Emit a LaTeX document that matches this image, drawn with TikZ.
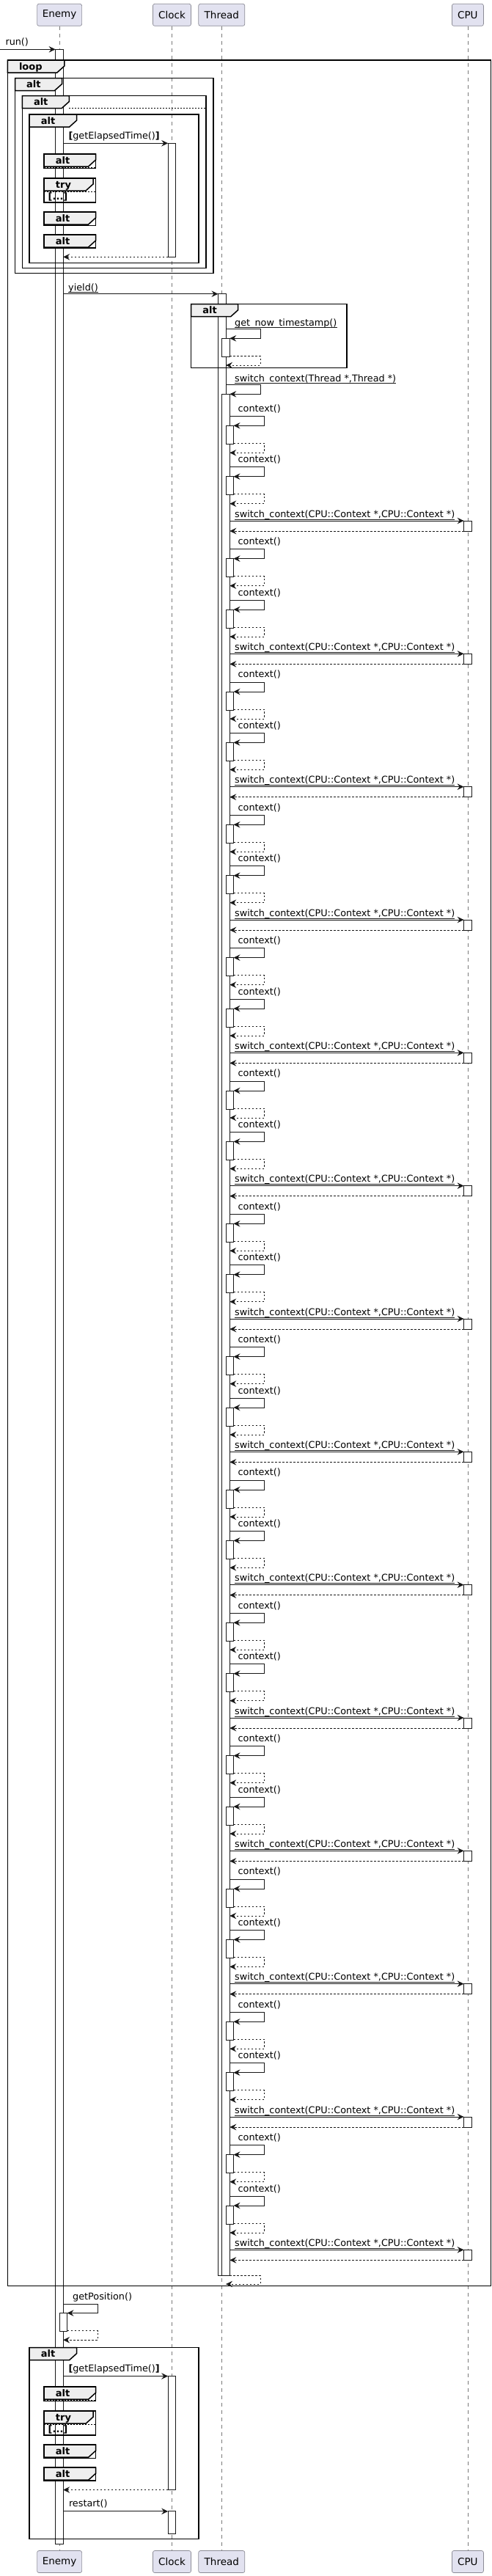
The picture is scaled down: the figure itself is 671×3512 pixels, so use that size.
\documentclass[tikz,border=0pt]{standalone}
\usepackage{fontspec}
\setmainfont{DejaVu Sans}
\usetikzlibrary{arrows.meta}
\definecolor{partfill}{HTML}{E2E2F0}
\definecolor{partline}{HTML}{8C8C96}
\definecolor{tabfill}{HTML}{EEEEEE}
\definecolor{ink}{HTML}{181818}
\definecolor{lifegray}{HTML}{7A7A7A}
\tikzset{
  msg/.style={draw=ink, line width=0.9pt, -{Stealth[length=9pt,width=8.5pt,inset=3.2pt]}},
  ret/.style={msg, dash pattern=on 2.5pt off 2.5pt},
  lifeline/.style={draw=lifegray, line width=0.6pt, dash pattern=on 5pt off 5pt},
  part/.style={draw=partline, fill=partfill, rounded corners=2.5pt, line width=0.7pt,
    minimum height=30pt, inner sep=0pt, font=\fontsize{13.5}{16}\selectfont},
  act/.style={draw=ink, fill=white, line width=0.8pt},
  seqframe/.style={draw=black, line width=1.5pt},
  tabpoly/.style={draw=black, fill=tabfill, line width=1.5pt},
  sepline/.style={draw=black, line width=0.6pt, dash pattern=on 2pt off 2pt},
  msgtxt/.style={inner sep=0pt, anchor=base west, font=\fontsize{12.8}{15}\selectfont},
  tabtxt/.style={inner sep=0pt, anchor=base west, font=\fontsize{13}{15}\selectfont\bfseries},
  uline/.style={draw=ink, line width=0.8pt}
}
% frame with tab: name, x0, y0, x1, y1, tab width, label
\newcommand{\SeqFrame}[7]{%
  \draw[seqframe] (#2,#3) rectangle (#4,#5);
  \draw[tabpoly] (#2,#3) -- (#2+#6,#3) -- (#2+#6,#3+8) -- (#2+#6-10,#3+17) -- (#2,#3+17) -- cycle;
  \node[tabtxt] (#1) at (#2+15.5,#3+13) {#7};
}
% collapsed small fragment: name, y0, y1, tab width, label
\newcommand{\SeqMini}[5]{%
  \draw[seqframe] (60,#2) rectangle (130.5,#3);
  \draw[tabpoly] (60,#2) -- (60+#4,#2) -- (60+#4,#2+8) -- (60+#4-10,#2+17) -- (60,#2+17) -- cycle;
  \node[tabtxt] (#1) at (75.7,#2+13) {#5};
}
% the block of collapsed fragments under getElapsedTime(): arrow y, suffix
\newcommand{\ClockBlock}[2]{%
  \SeqMini{mA#2}{#1+14.7}{#1+34.2}{70.5}{alt}
  \draw[sepline] (60,#1+32.7) -- (130.5,#1+32.7);
  \SeqMini{mB#2}{#1+47.7}{#1+80.7}{67}{try}
  \draw[sepline] (60,#1+66) -- (130.5,#1+66);
  \node[tabtxt] (mBt#2) at (65.5,#1+77.2) {[...]};
  \SeqMini{mC#2}{#1+93.7}{#1+112.2}{70.5}{alt}
  \SeqMini{mD#2}{#1+124.7}{#1+142.7}{70.5}{alt}
}
\newcommand{\ULine}[1]{\draw[uline] ([yshift=-2.7pt]#1.base west) -- ([yshift=-2.7pt]#1.base east);}

\begin{document}
\begin{tikzpicture}[x=1pt,y=-1pt]
\useasboundingbox (0,0) rectangle (671,3512);

% participants
\node[part, minimum width=61pt] (enemyT) at (81.1,20.3) {Enemy};
\node[part, minimum width=52pt] (clockT) at (234.5,20.3) {Clock};
\node[part, minimum width=63pt] (threadT) at (302.3,20.3) {Thread};
\node[part, minimum width=43pt] (cpuT) at (637.9,20.3) {CPU};
\node[part, minimum width=61pt] (enemyB) at (81.1,3492.5) {Enemy};
\node[part, minimum width=52pt] (clockB) at (234.5,3492.5) {Clock};
\node[part, minimum width=63pt] (threadB) at (302.3,3492.5) {Thread};
\node[part, minimum width=43pt] (cpuB) at (637.9,3492.5) {CPU};

% lifelines
\draw[lifeline] (enemyT.south) -- (enemyB.north);
\draw[lifeline] (clockT.south) -- (clockB.north);
\draw[lifeline] (threadT.south) -- (threadB.north);
\draw[lifeline] (cpuT.south) -- (cpuB.north);

% main activations
\draw[act] (75.6,67.3) rectangle (86.1,3468.4);
\draw[act] (81,3153.5) rectangle (91.5,3178.5);
\draw[act] (229.2,195.3) rectangle (239.7,350.3);
\draw[act] (229.2,3239.5) rectangle (239.7,3394.5);
\draw[act] (229.2,3423.8) rectangle (239.7,3454);
\draw[act] (297.5,400.7) rectangle (308,3102.3);
\draw[act] (302.75,461.3) rectangle (313.25,486.3);
\draw[act] (302.75,537.3) rectangle (313.25,3102.3);

% fragments
\SeqFrame{loopF}{10.3}{82}{669.7}{3116.5}{77.5}{loop}
\SeqFrame{altA}{20.5}{106.5}{291}{372.7}{64}{alt}
\SeqFrame{altB}{30.3}{130.5}{281}{365.3}{64}{alt}
\draw[sepline] (94.3,147.7) -- (281,147.7);
\SeqFrame{altC}{40.2}{156}{271}{358.7}{64.5}{alt}
\ClockBlock{195.3}{one}
\SeqFrame{altT}{260.6}{414.7}{473}{501.3}{64}{alt}
\SeqFrame{altD}{40.2}{3200.5}{271}{3461.7}{64.5}{alt}
\ClockBlock{3239.5}{two}

% run()
\node[msgtxt] (runL) at (7.3,61.3) {run()};
\draw[msg] (0,67.3) -- (75.6,67.3);

% getElapsedTime (top)
\node[msgtxt] (getA) at (93.3,189.3) {\textbf{[}getElapsedTime()\textbf{]}};
\draw[msg] (86.1,195.3) -- (229.2,195.3);
\draw[ret] (229.2,350.3) -- (86.1,350.3);

% yield()
\node[msgtxt] (yieldL) at (93,396) {yield()};
\ULine{yieldL}
\draw[msg] (86.1,400.7) -- (297.5,400.7);

% get_now_timestamp()
\node[msgtxt] (nowL) at (320,444) {get\_now\_timestamp()};
\ULine{nowL}
\draw[msg] (308,448.7) -- (355,448.7) -- (355,461.3) -- (313.25,461.3);
\draw[ret] (313.25,485.3) -- (355,485.3) -- (355,498) -- (308,498);

% switch_context(Thread *,Thread *)
\node[msgtxt] (swT) at (320,520) {switch\_context(Thread *,Thread *)};
\ULine{swT}
\draw[msg] (308,524.7) -- (355,524.7) -- (355,537.3) -- (313.25,537.3);

% repeated context groups
\foreach \k in {0,...,13}{
  \pgfmathsetmacro{\ya}{567.3+181.33*\k}
  \pgfmathsetmacro{\yb}{\ya+69.4}
  \pgfmathsetmacro{\yc}{\ya+142.7}
  \draw[act] (308,\ya+13) rectangle (318.5,\ya+38);
  \node[msgtxt] (ctxA\k) at (324.5,\ya-6) {context()};
  \draw[msg] (313.25,\ya) -- (360.4,\ya) -- (360.4,\ya+13) -- (318.5,\ya+13);
  \draw[ret] (318.5,\ya+37) -- (360.4,\ya+37) -- (360.4,\ya+50) -- (313.25,\ya+50);
  \draw[act] (308,\yb+13) rectangle (318.5,\yb+38);
  \node[msgtxt] (ctxB\k) at (324.5,\yb-6) {context()};
  \draw[msg] (313.25,\yb) -- (360.4,\yb) -- (360.4,\yb+13) -- (318.5,\yb+13);
  \draw[ret] (318.5,\yb+37) -- (360.4,\yb+37) -- (360.4,\yb+50) -- (313.25,\yb+50);
  \draw[act] (632.6,\yc) rectangle (643.1,\yc+14);
  \node[msgtxt] (swC\k) at (320,\yc-4.7) {switch\_context(CPU::Context *,CPU::Context *)};
  \ULine{swC\k}
  \draw[msg] (313.25,\yc) -- (632.6,\yc);
  \draw[ret] (632.6,\yc+14) -- (313.25,\yc+14);
}

% return of switch_context(Thread)
\draw[ret] (313.25,3102.3) -- (355,3102.3) -- (355,3114) -- (308,3114);

% getPosition()
\node[msgtxt] (gpL) at (99,3135.3) {getPosition()};
\draw[msg] (86.1,3141) -- (133.3,3141) -- (133.3,3153.5) -- (91.5,3153.5);
\draw[ret] (91.5,3177.7) -- (133.3,3177.7) -- (133.3,3190.2) -- (86.1,3190.2);

% getElapsedTime (bottom)
\node[msgtxt] (getB) at (93.3,3233.5) {\textbf{[}getElapsedTime()\textbf{]}};
\draw[msg] (86.1,3239.5) -- (229.2,3239.5);
\draw[ret] (229.2,3394.5) -- (86.1,3394.5);

% restart()
\node[msgtxt] (rsL) at (93.8,3417.8) {restart()};
\draw[msg] (86.1,3423.8) -- (229.2,3423.8);
\end{tikzpicture}
\end{document}
